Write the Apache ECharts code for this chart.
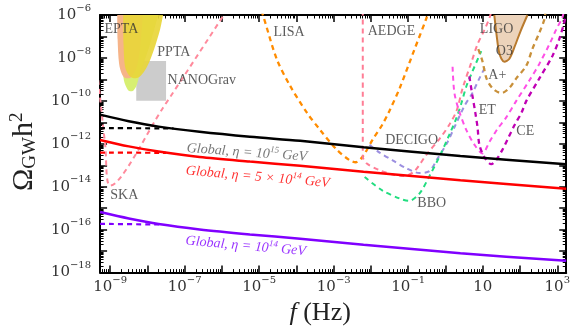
<!DOCTYPE html>
<html>
<head>
<meta charset="utf-8">
<script src="https://cdn.jsdelivr.net/npm/echarts@6/dist/echarts.min.js"></script>
<style>
  html, body { margin: 0; padding: 0; background: #fff; }
  #chart { width: 573px; height: 331px; }
</style>
</head>
<body>
<div id="chart"></div>
<script>
// every coordinate is a decimal exponent: x = log10(f / Hz), y = log10(Omega_GW h^2)
var xRange = [-9.27, 3.24];
var yRange = [-18, -6];
var xLabelExps = [-9, -7, -5, -3, -1, 1, 3];
var yLabelExps = [-18, -16, -14, -12, -10, -8, -6];

// global string curves (solid) and their dashed low-frequency variants
var globalE15 = [[-9.27, -10.64], [-8.5, -10.95], [-7.7, -11.2], [-6.6, -11.44], [-5.25, -11.67], [-3.9, -11.86], [-2.2, -12.16], [0.4, -12.57], [3.24, -12.95]];
var global5E14 = [[-9.27, -11.82], [-8.5, -12.12], [-7.7, -12.36], [-6.6, -12.62], [-5.25, -12.83], [-3.9, -13.02], [-2.2, -13.3], [0.4, -13.7], [3.24, -14.09]];
var globalE14 = [[-9.27, -15.18], [-8.5, -15.48], [-7.7, -15.74], [-6.6, -15.99], [-5.25, -16.22], [-3.9, -16.42], [-2.2, -16.7], [0.4, -17.1], [3.24, -17.45]];
var globalE15Dash = [[-9.27, -11.27], [-7.3, -11.28]];
var global5E14Dash = [[-9.27, -12.41], [-7.5, -12.42]];
var globalE14Dash = [[-9.27, -15.73], [-7.6, -15.76]];

// PTA regions (filled up to the top edge)
var eptaRegion = [[-8.81, -6], [-8.8, -7.14], [-8.76, -8.27], [-8.68, -8.77], [-8.57, -8.95], [-8.44, -8.91], [-8.3, -8.5], [-8.2, -7.59], [-8.12, -6]];
var nanoGravGreen = [[-8.68, -6], [-8.68, -8.05], [-8.63, -9.05], [-8.52, -9.5], [-8.41, -9.55], [-8.3, -9.32], [-8.2, -8.73], [-7.93, -7.36], [-7.71, -6]];
var pptaRegion = [[-8.65, -6], [-8.64, -7.36], [-8.6, -8.41], [-8.49, -8.82], [-8.36, -8.95], [-8.2, -8.86], [-8.01, -8.41], [-7.82, -7.59], [-7.66, -6.68], [-7.58, -6]];
var nanoGravBoxX = [-8.3, -7.5];
var nanoGravBoxY = [-10, -8.14];
var ligoO3Region = [[1.31, -6], [1.37, -6.91], [1.45, -7.82], [1.58, -8.18], [1.71, -8.05], [1.85, -7.5], [2.01, -6.77], [2.2, -6]];

// sensitivity curves
var ska = [[-9.5, -6.1], [-9.27, -9.86], [-9.13, -12.1], [-9.0, -13.95], [-7.58, -10.32], [-5.95, -6.0]];
var lisa = [[-4.95, -5.8], [-4.9, -6.0], [-4.53, -8.05], [-4.18, -9.27], [-3.72, -10.55], [-3.38, -11.32], [-2.92, -12.27], [-2.57, -12.77], [-2.41, -12.86], [-2.22, -12.59], [-1.96, -11.82], [-1.69, -11.09], [-1.5, -10.45], [-1.23, -9.41], [-0.83, -7.59], [-0.51, -6.14], [-0.48, -5.9]];
var aedge = [[-2.22, -5.8], [-2.22, -12.59], [-2.12, -12.91], [-1.77, -13.23], [-1.37, -13.45], [-1.1, -13.5], [-0.83, -13.27], [-0.51, -12.5], [-0.16, -11.77], [0.11, -11.09], [0.3, -10.45], [0.46, -9.41], [0.7, -8.18], [0.86, -7.36], [1.05, -6.68], [1.18, -6.14], [1.22, -5.9]];
var decigo = [[-2.04, -12.05], [-1.77, -12.41], [-1.42, -12.77], [-1.05, -13.14], [-0.7, -13.36], [-0.43, -13.27], [-0.21, -12.68], [0.03, -12.0], [0.24, -11.23], [0.51, -10.23], [0.72, -9.64], [0.91, -8.95], [1.07, -8.41]];
var bbo = [[-2.17, -13.55], [-1.69, -14.18], [-1.23, -14.55], [-0.98, -14.66], [-0.7, -14.32], [-0.43, -13.5], [-0.16, -12.59], [0.11, -11.55], [0.3, -10.77], [0.43, -10.09], [0.56, -9.32], [0.72, -8.64], [0.96, -7.68]];
var et = [[0.19, -8.41], [0.24, -9.64], [0.38, -10.55], [0.56, -11.36], [0.78, -12.05], [0.99, -12.45], [1.18, -11.91], [1.39, -11.32], [1.63, -10.77], [1.9, -10.0], [2.25, -9.05], [2.52, -8.27], [2.79, -7.36], [2.97, -6.68], [3.13, -6.14], [3.17, -5.9]];
var ce = [[0.64, -8.86], [0.72, -9.73], [0.8, -10.55], [0.86, -11.23], [0.91, -12.05], [1.05, -12.64], [1.23, -12.95], [1.37, -12.73], [1.53, -12.27], [1.66, -11.82], [1.85, -11.14], [2.04, -10.55], [2.17, -10.0], [2.52, -8.95], [2.87, -7.91], [3.05, -7.14], [3.19, -6.32], [3.22, -6.0]];
var aPlus = [[0.88, -7.59], [0.99, -8.14], [1.1, -8.95], [1.26, -9.41], [1.5, -9.64], [1.71, -9.41], [1.9, -8.95], [2.17, -8.36], [2.33, -7.59], [2.52, -6.82], [2.65, -6.23], [2.68, -5.9]];

// text anchors
var curveLabels = [
  ['EPTA', -8.7, -6.68], ['PPTA', -7.29, -7.73], ['NANOGrav', -6.54, -9.05], ['SKA', -8.62, -14.41],
  ['LISA', -4.2, -6.82], ['AEDGE', -1.45, -6.77], ['DECIGO', -0.91, -11.82], ['BBO', -0.37, -14.77],
  ['LIGO', 1.37, -6.68], ['O3', 1.58, -7.68], ['A+', 1.39, -8.82], ['ET', 1.12, -10.45], ['CE', 2.14, -11.41]
];
var globalLabelE15 = [-5.33, -12.41];
var globalLabel5E14 = [-5.04, -13.55];
var globalLabelE14 = [-5.36, -16.77];

function decadeTicks(r) {
  var out = [];
  for (var n = Math.ceil(r[0]); n <= Math.floor(r[1]); n++) out.push(n);
  return out;
}
function minorTicks(r) {
  var out = [];
  for (var n = Math.floor(r[0]); n <= Math.ceil(r[1]); n++) {
    for (var k = 2; k <= 9; k++) {
      var v = n + Math.log10(k);
      if (v > r[0] && v < r[1]) out.push(v);
    }
  }
  return out;
}

var tickFont = 'DejaVu Serif';
var labelRich = {
  b: { fontFamily: tickFont, fontSize: 15, color: '#333', lineHeight: 24 },
  s: { fontFamily: tickFont, fontSize: 10, color: '#333', lineHeight: 12, verticalAlign: 'top' }
};
function expLabel(v) {
  var e = Math.round(v);
  if (e === 1) return '{b|10}';
  return '{b|10}{s|' + (e < 0 ? '\u2212' : '') + Math.abs(e) + '}';
}

function axis(kind, pos, major, range, showLabels, labelVals, extra) {
  var ax = {
    type: 'value',
    position: pos,
    min: range[0],
    max: range[1],
    axisLine: { show: major, onZero: false, lineStyle: { color: '#000', width: 2 } },
    axisTick: {
      show: true, inside: true,
      length: major ? 7 : 3.5,
      lineStyle: { color: '#000', width: major ? 1.5 : 1 },
      customValues: major ? decadeTicks(range) : minorTicks(range)
    },
    axisLabel: {
      show: showLabels,
      customValues: labelVals,
      formatter: expLabel,
      rich: labelRich,
      margin: kind === 'x' ? 3 : 9
    },
    splitLine: { show: false }
  };
  for (var k in extra) ax[k] = extra[k];
  return ax;
}

function dashed(data, color, width) {
  return {
    type: 'line', data: data, showSymbol: false, symbol: 'none', smooth: 0.3,
    lineStyle: { color: color, width: width || 2, type: [5, 4] }, silent: true, z: 3
  };
}
function solid(data, color) {
  return {
    type: 'line', data: data, showSymbol: false, symbol: 'none', smooth: 0.3,
    lineStyle: { color: color, width: 2.5 }, silent: true, z: 4
  };
}
function region(data, fill, stroke) {
  return {
    type: 'line', data: data, showSymbol: false, symbol: 'none', smooth: 0.3,
    lineStyle: { color: stroke || fill, width: stroke ? 2 : 0 },
    areaStyle: { color: fill, opacity: 1, origin: 'end' }, silent: true, z: 2
  };
}
function globalLabel(pt, head, txt, color, rot) {
  return {
    type: 'scatter', data: [pt], symbolSize: 0, silent: true, z: 6,
    label: {
      show: true, position: 'inside', rotate: rot,
      formatter: '{t|' + head + '}{s|' + txt + '}{t| GeV}',
      rich: {
        t: { fontFamily: 'Liberation Serif', fontStyle: 'italic', fontSize: 14, color: color, lineHeight: 18 },
        s: { fontFamily: 'Liberation Serif', fontStyle: 'italic', fontSize: 9, color: color, lineHeight: 10, verticalAlign: 'top' }
      }
    }
  };
}

var chart = echarts.init(document.getElementById('chart'), null, { renderer: 'canvas' });

var series = [
  region(nanoGravGreen, '#d7ef72'),
  region(eptaRegion, '#f6b489'),
  region(pptaRegion, 'rgba(232,214,58,0.92)'),
  {
    type: 'line', data: [], silent: true, z: 2,
    markArea: {
      silent: true,
      itemStyle: { color: 'rgba(200,200,200,0.92)' },
      data: [[{ xAxis: nanoGravBoxX[0], yAxis: nanoGravBoxY[0] }, { xAxis: nanoGravBoxX[1], yAxis: nanoGravBoxY[1] }]]
    }
  },
  region(ligoO3Region, '#ecd3bb', '#b97a2e'),
  dashed(ska, '#ff8a9c'),
  dashed(lisa, '#ff8c00', 2.3),
  dashed(aedge, '#ff7d95'),
  dashed(decigo, '#9c8fe0'),
  dashed(bbo, '#22dd80'),
  dashed(et, '#ff4fe6'),
  dashed(ce, '#c000b4', 2.3),
  dashed(aPlus, '#c8903a', 2.3),
  solid(globalE15, '#000'),
  solid(global5E14, '#ff0000'),
  solid(globalE14, '#8000ff'),
  dashed(globalE15Dash, '#000', 2.2),
  dashed(global5E14Dash, '#ff0000', 2.2),
  dashed(globalE14Dash, '#8000ff', 2.2),
  {
    type: 'scatter', symbolSize: 0, silent: true, z: 6,
    data: curveLabels.map(function (d) { return { name: d[0], value: [d[1], d[2]] }; }),
    label: {
      show: true, position: 'inside', formatter: '{b}',
      fontFamily: 'Liberation Serif', fontSize: 14, color: '#333'
    }
  },
  globalLabel(globalLabelE15, 'Global, \u03b7 = 10', '15', '#555', -4),
  globalLabel(globalLabel5E14, 'Global, \u03b7 = 5 \u00d7 10', '14', '#ff0000', -5),
  globalLabel(globalLabelE14, 'Global, \u03b7 = 10', '14', '#8000ff', -5)
];

chart.setOption({
  animation: false,
  grid: { left: 100, right: 6, top: 15, bottom: 52, containLabel: false },
  xAxis: [
    axis('x', 'bottom', true, xRange, true, xLabelExps, {
      name: '{i|f}{n| (Hz)}',
      nameLocation: 'middle',
      nameGap: 24,
      nameTextStyle: {
        padding: [0, 26, 0, 0],
        rich: {
          i: { fontFamily: 'Liberation Serif', fontStyle: 'italic', fontSize: 26, color: '#222' },
          n: { fontFamily: 'Liberation Serif', fontSize: 26, color: '#222' }
        }
      }
    }),
    axis('x', 'bottom', false, xRange, false, xLabelExps),
    axis('x', 'top', true, xRange, false, xLabelExps),
    axis('x', 'top', false, xRange, false, xLabelExps)
  ],
  yAxis: [
    axis('y', 'left', true, yRange, true, yLabelExps, {
      name: '{o|\u03a9}{sub|GW}{o|h}{sup|2}',
      nameLocation: 'middle',
      nameRotate: 90,
      nameGap: 58,
      nameTextStyle: {
        padding: [0, 16, 0, 0],
        rich: {
          o: { fontFamily: 'Liberation Serif', fontSize: 30, color: '#222', lineHeight: 32 },
          sub: { fontFamily: 'Liberation Serif', fontSize: 19, color: '#222', lineHeight: 32, verticalAlign: 'bottom' },
          sup: { fontFamily: 'Liberation Serif', fontSize: 19, color: '#222', lineHeight: 20, verticalAlign: 'top' }
        }
      }
    }),
    axis('y', 'left', false, yRange, false, yLabelExps),
    axis('y', 'right', true, yRange, false, yLabelExps),
    axis('y', 'right', false, yRange, false, yLabelExps)
  ],
  series: series
});
window.addEventListener('resize', function () { chart.resize(); });
</script>
</body>
</html>
